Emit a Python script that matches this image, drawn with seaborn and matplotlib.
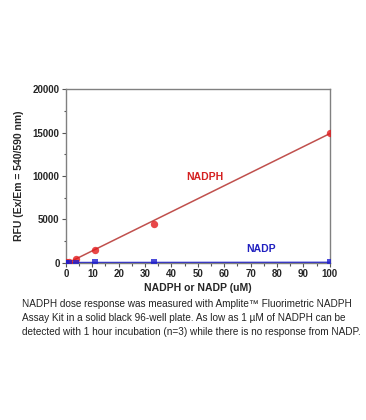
import numpy as np
import pandas as pd
import matplotlib
matplotlib.use("Agg")
import matplotlib.pyplot as plt
import seaborn as sns
from matplotlib.ticker import MultipleLocator

conc = [0, 1.23, 3.7, 11.1, 33.3, 100]
nadph = [60, 150, 500, 1500, 4500, 15000]
nadp = [30, 40, 45, 50, 55, 60]

sns.set_style("white")
plt.rcParams['font.family'] = ['Liberation Sans', 'DejaVu Sans']

df = pd.DataFrame({"conc": conc, "NADPH": nadph, "NADP": nadp})

fig = plt.figure(figsize=(3.66, 4.2), dpi=100)
ax = fig.add_axes([0.180, 0.374, 0.721, 0.414])

sns.regplot(data=df, x="conc", y="NADPH", ax=ax, ci=None, truncate=True,
            scatter_kws=dict(s=28, color="#e31a1c", zorder=3, clip_on=True, linewidths=0),
            line_kws=dict(color="#c0504d", lw=1.1))
sns.regplot(data=df, x="conc", y="NADP", ax=ax, ci=None, truncate=True, marker="s",
            scatter_kws=dict(s=16, color="#1f1fd0", zorder=3, clip_on=True, linewidths=0),
            line_kws=dict(color="#2a2ad0", lw=1.1))

ax.set_xlim(0, 100)
ax.set_ylim(0, 20000)
ax.xaxis.set_major_locator(MultipleLocator(10))
ax.xaxis.set_minor_locator(MultipleLocator(5))
ax.yaxis.set_major_locator(MultipleLocator(5000))
ax.yaxis.set_minor_locator(MultipleLocator(2500))
ax.tick_params(which="major", direction="out", length=3, width=0.8, color="#555555",
               labelsize=7, pad=1.5, bottom=True, left=True)
ax.tick_params(which="minor", direction="out", length=1.8, width=0.8, color="#555555",
               bottom=True, left=True)
for lab in ax.get_xticklabels() + ax.get_yticklabels():
    lab.set_fontweight("bold")
for s in ax.spines.values():
    s.set_color("#808080")
    s.set_linewidth(1.0)

ax.set_xlabel("NADPH or NADP (uM)", fontsize=7.5, fontweight="bold", labelpad=3)
ax.set_ylabel("RFU (Ex/Em = 540/590 nm)", fontsize=7.5, fontweight="bold", labelpad=6)

ax.text(52.7, 9900, "NADPH", color="#d42020", fontsize=7.5, fontweight="bold",
        ha="center", va="center")
ax.text(74, 1600, "NADP", color="#2020c0", fontsize=7.5, fontweight="bold",
        ha="center", va="center")

caption = ("NADPH dose response was measured with Amplite\u2122 Fluorimetric NADPH\n"
           "Assay Kit in a solid black 96-well plate. As low as 1 \u00b5M of NADPH can be\n"
           "detected with 1 hour incubation (n=3) while there is no response from NADP.")
fig.text(0.06, 1 - 299/420, caption, fontsize=7.2, ha="left", va="top",
         linespacing=1.5, color="#222222")

fig.savefig("out.png", dpi=100)
